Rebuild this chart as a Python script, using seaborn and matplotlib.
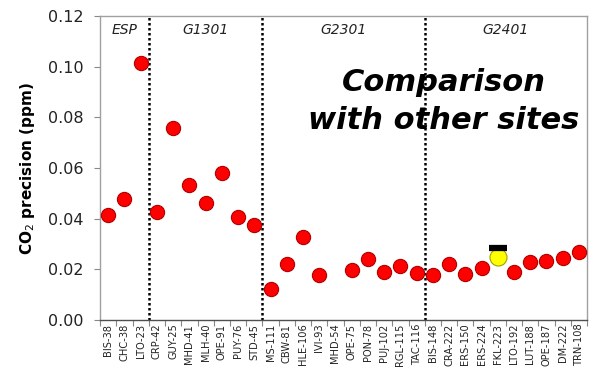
import numpy as np
import pandas as pd
import matplotlib
matplotlib.use("Agg")
import matplotlib.pyplot as plt
import seaborn as sns

sites = ["BIS-38", "CHC-38", "LTO-23",
         "CRP-42", "GUY-25", "MHD-41", "MLH-40", "OPE-91", "PUY-76", "STD-45",
         "MS-111", "CBW-81", "HLE-106", "IVI-93", "MHD-54", "OPE-75", "PON-78",
         "PUJ-102", "RGL-115", "TAC-116",
         "BIS-148", "CRA-222", "ERS-150", "ERS-224", "FKL-223", "LTO-192",
         "LUT-188", "OPE-187", "DM-222", "TRN-108"]
precision = [0.0414, 0.0478, 0.1015,
             0.0426, 0.0758, 0.0535, 0.0462, 0.0580, 0.0407, 0.0375,
             0.0122, 0.0220, 0.0330, 0.0178, np.nan, 0.0197, 0.0240,
             0.0191, 0.0212, 0.0188,
             0.0180, 0.0223, 0.0184, 0.0204, np.nan, 0.0191,
             0.0229, 0.0232, 0.0246, 0.0268]
groups = ["ESP", "G1301", "G2301", "G2401"]
group_sizes = [3, 7, 10, 10]
highlight_site = "FKL-223"
highlight_value = 0.0248
highlight_ref = 0.0284

sns.set_style("white")
plt.rcParams['font.family'] = ['DejaVu Sans']
plt.rcParams['text.color'] = 'black'
plt.rcParams['axes.labelcolor'] = 'black'
plt.rcParams['xtick.color'] = 'black'
plt.rcParams['ytick.color'] = 'black'

fig = plt.figure(figsize=(5.96, 3.68), dpi=100)
ax = fig.add_axes([0.168, 0.130, 0.817, 0.8265])

df = pd.DataFrame({"x": np.arange(len(sites)), "y": precision})
sns.scatterplot(data=df, x="x", y="y", ax=ax, s=105, color="#ff0000",
                edgecolor="#b00000", linewidth=0.8, zorder=3)
hx = sites.index(highlight_site)
sns.scatterplot(x=[hx], y=[highlight_value], ax=ax, s=150, color="#ffff00",
                edgecolor="#a0a000", linewidth=0.8, zorder=4)
ax.plot([hx], [highlight_ref], marker="_", markersize=13, mew=4.5, color="black",
        linestyle="none", zorder=5)

ax.set_xlim(-0.5, len(sites) - 0.5)
ax.set_ylim(0, 0.12)
yt = np.arange(0, 0.121, 0.02)
ax.set_yticks(yt)
ax.set_yticklabels([f"{v:.2f}" for v in yt], fontsize=11.5, color="#222222")
ax.set_xticks(np.arange(len(sites)))
ax.set_xticklabels(sites, rotation=90, fontsize=7.1, color="#222222")
ax.set_xticks(np.arange(-0.5, len(sites), 1.0), minor=True)
ax.tick_params(axis="x", which="major", length=0, pad=2.5)
ax.tick_params(axis="x", which="minor", length=4, width=0.8, color="#888888", bottom=True)
ax.tick_params(axis="y", length=4, width=0.8, color="#888888", left=True, pad=8)
ax.set_xlabel("")
ax.set_ylabel("CO$_2$ precision (ppm)", fontsize=11, fontweight="bold", labelpad=8)

for s in ax.spines.values():
    s.set_color("#a0a0a0")
    s.set_linewidth(1.0)
ax.spines["bottom"].set_color("#505050")

start = 0
for g, n in zip(groups, group_sizes):
    end = start + n
    ax.text((start + end - 1) / 2, 0.1145, g, fontsize=10, style="italic",
            ha="center", va="center", color="#222222")
    if end < len(sites):
        ax.axvline(end - 0.5, color="black", linestyle=(0, (1, 1)), linewidth=1.8, zorder=2)
    start = end

ax.text(0.705, 0.78, "Comparison", transform=ax.transAxes, fontsize=22,
        fontweight="bold", style="italic", ha="center", va="center", color="black")
ax.text(0.705, 0.655, "with other sites", transform=ax.transAxes, fontsize=22,
        fontweight="bold", style="italic", ha="center", va="center", color="black")

fig.savefig("out.png", dpi=100)
